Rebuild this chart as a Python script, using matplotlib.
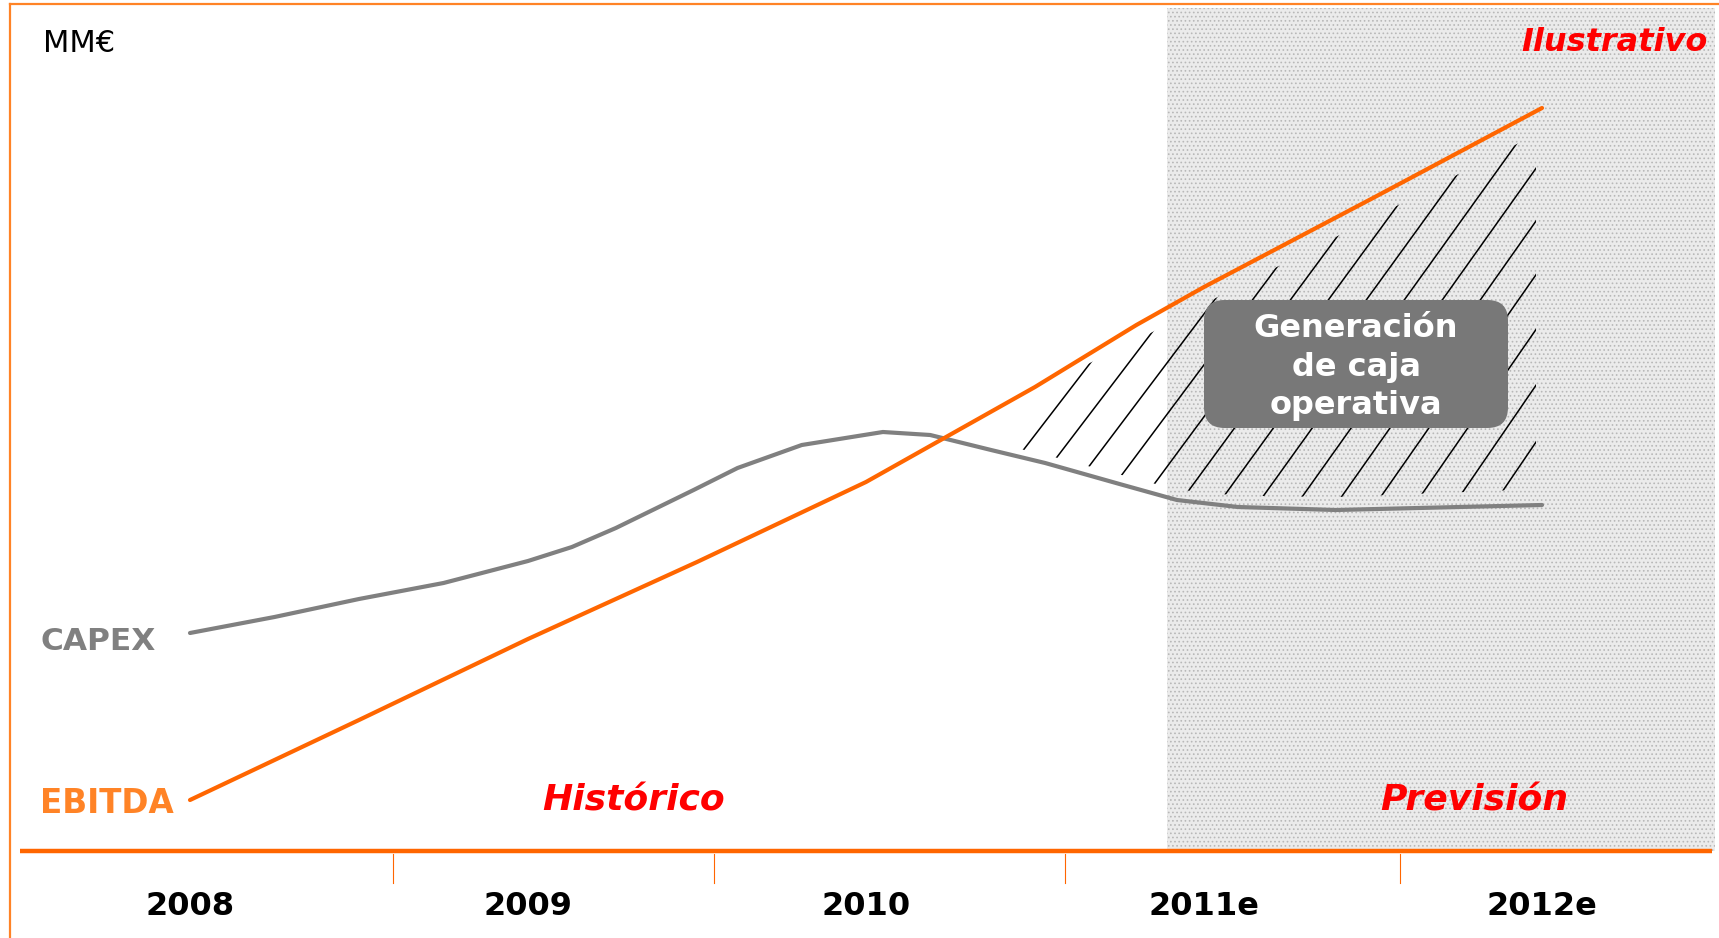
"""
EBITDA vs CAPEX - generación de caja operativa (ilustrativo).
"""

import numpy as np
import matplotlib
matplotlib.use("Agg")
import matplotlib.pyplot as plt
from matplotlib.patches import FancyBboxPatch, Rectangle

# ── Data (MM€, ilustrativo) ────────────────────────────────────────────────────

YEARS        = [2008, 2009, 2010, 2011, 2012]
YEAR_LABELS  = ["2008", "2009", "2010", "2011e", "2012e"]
PERIOD_EDGES = [2008.60, 2009.55, 2010.59, 2011.58]   # separators between periods
FORECAST_START = 2010.89                              # start of "Previsión" band

EBITDA_X = [2008.0, 2008.5, 2009.0, 2009.5, 2010.0, 2010.5, 2010.8, 2011.0, 2011.5, 2012.0]
EBITDA_Y = [5.1, 13.1, 21.2, 28.9, 36.9, 46.4, 52.6, 56.4, 65.3, 74.3]

CAPEX_X = [2008.0, 2008.25, 2008.5, 2008.75, 2009.0, 2009.13, 2009.26, 2009.49,
           2009.62, 2009.81, 2010.05, 2010.19, 2010.37, 2010.53, 2010.75,
           2010.92, 2011.10, 2011.39, 2012.0]
CAPEX_Y = [21.8, 23.4, 25.2, 26.8, 29.0, 30.4, 32.3, 36.1,
           38.3, 40.6, 41.9, 41.6, 40.1, 38.8, 36.7,
           35.1, 34.4, 34.1, 34.6]

# ── Layout ─────────────────────────────────────────────────────────────────────

W_PX, H_PX = 1719, 938
PX_PER_YEAR = 338.0
PX_PER_UNIT = 10.0
X0_PX, Y0_PX = 190.0, 851.0           # pixel of (2008, 0)

ORANGE   = "#ff6600"
ORANGE_L = "#ff8326"
GREY     = "#808080"
RED      = "#ff0000"

plt.rcParams["font.family"] = ["DejaVu Sans"]


def px(x, y):
    """pixel position -> axes fraction"""
    return x / W_PX, 1 - y / H_PX


def yv(y_px):
    """pixel row -> data value"""
    return (Y0_PX - y_px) / PX_PER_UNIT


def xv(x_px):
    """pixel column -> year"""
    return 2008 + (x_px - X0_PX) / PX_PER_YEAR


fig = plt.figure(figsize=(W_PX / 100, H_PX / 100), dpi=100)
ax = fig.add_axes([0, 0, 1, 1])
ax.set_xlim(xv(0), xv(W_PX))
ax.set_ylim(yv(H_PX), yv(0))
ax.axis("off")

# ── Forecast band (dotted grey) ────────────────────────────────────────────────

plt.rcParams["hatch.linewidth"] = 0.7
ax.add_patch(Rectangle((FORECAST_START, 0), xv(1715) - FORECAST_START,
                       yv(8), facecolor="#ebebeb", edgecolor="#b8b8b8",
                       hatch="....", linewidth=0, zorder=0))

# ── Frame + time axis ──────────────────────────────────────────────────────────

ax.plot([px(10, 4)[0], 1], [px(10, 4)[1]] * 2, transform=ax.transAxes,
        color=ORANGE_L, lw=1.6, clip_on=False)
ax.plot([px(10, 4)[0]] * 2, [px(10, 4)[1], 0], transform=ax.transAxes,
        color=ORANGE_L, lw=1.6, clip_on=False)

ax.plot([xv(20), xv(1712)], [0, 0], color=ORANGE, lw=3.2,
        solid_capstyle="butt", zorder=3)
for e in PERIOD_EDGES:
    ax.plot([e, e], [yv(854), yv(883)], color=ORANGE, lw=0.8)

for yr, lab in zip(YEARS, YEAR_LABELS):
    ax.text(yr, yv(915), lab, ha="center", va="baseline",
            fontsize=23, fontweight="bold", color="black")

# ── Cash generation hatch (hand-drawn look: slope drifts a little) ─────────────

grid = np.linspace(xv(1020), xv(1536), 300)
gap_top = np.interp(grid, [xv(1020), xv(1150), xv(1536)], [0.2, 1.6, 2.3])
upper = np.interp(grid, EBITDA_X, EBITDA_Y) - gap_top
lower = np.interp(grid, CAPEX_X, CAPEX_Y) + np.linspace(0.8, 1.6, grid.size)
region = ax.fill_between(grid, lower, upper, facecolor="none", edgecolor="none")
clip = region.get_paths()[0]

anchors = np.linspace(1008, 1517, 14)              # x (px) where lines cross row 470
slopes  = np.linspace(1.30, 1.47, anchors.size)    # px / px
y_anchor = yv(470)
for xa, s in zip(anchors, slopes):
    sd = s * PX_PER_YEAR / PX_PER_UNIT
    ys = np.array([0.0, 90.0])
    ln, = ax.plot(xv(xa) + (ys - y_anchor) / sd, ys, color="black", lw=1.1, zorder=2)
    ln.set_clip_path(clip, ax.transData)

# ── Series ─────────────────────────────────────────────────────────────────────

ax.plot(CAPEX_X, CAPEX_Y, color=GREY, lw=3.0, solid_capstyle="round",
        solid_joinstyle="round", zorder=4)
ax.plot(EBITDA_X, EBITDA_Y, color=ORANGE, lw=3.0, solid_capstyle="round",
        solid_joinstyle="round", zorder=5)

# ── Callout box ────────────────────────────────────────────────────────────────

bx0, by0 = px(1204, 428)
bx1, by1 = px(1508, 300)
ax.add_patch(FancyBboxPatch((bx0, by0), bx1 - bx0, by1 - by0,
                            boxstyle="round,pad=0,rounding_size=0.012",
                            mutation_aspect=W_PX / H_PX,
                            transform=ax.transAxes, facecolor="#787878",
                            edgecolor="none", zorder=6))
ax.text(*px(1356, 367), "Generación\nde caja\noperativa", transform=ax.transAxes,
        ha="center", va="center", multialignment="center", linespacing=1.3,
        fontsize=23, fontweight="bold", color="white", zorder=7)

# ── Labels ─────────────────────────────────────────────────────────────────────

ax.text(*px(43, 52), "MM€", transform=ax.transAxes, ha="left", va="baseline",
        fontsize=22, color="black")
ax.text(*px(1708, 51), "Ilustrativo", transform=ax.transAxes, ha="right",
        va="baseline", fontsize=23, fontweight="bold", style="italic", color=RED)
ax.text(*px(40, 650), "CAPEX", transform=ax.transAxes, ha="left", va="baseline",
        fontsize=22.5, fontweight="bold", color=GREY)
ax.text(*px(40, 813), "EBITDA", transform=ax.transAxes, ha="left", va="baseline",
        fontsize=23.5, fontweight="bold", color=ORANGE_L)
ax.text(*px(634, 810), "Histórico", transform=ax.transAxes, ha="center",
        va="baseline", fontsize=26, fontweight="bold", style="italic", color=RED)
ax.text(*px(1474, 810), "Previsión", transform=ax.transAxes, ha="center",
        va="baseline", fontsize=26, fontweight="bold", style="italic", color=RED)

fig.savefig("out.png", dpi=100)
